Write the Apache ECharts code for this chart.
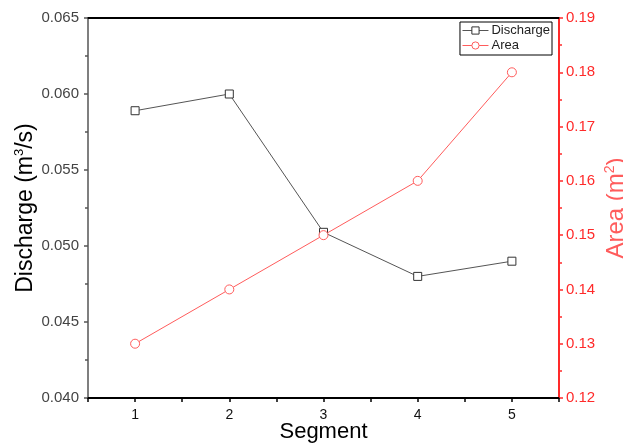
<!DOCTYPE html>
<html>
<head>
<meta charset="utf-8">
<script src="https://cdn.jsdelivr.net/npm/echarts@6/dist/echarts.min.js"></script>
<style>
  html, body { margin: 0; padding: 0; background: #fff; }
  #chart { width: 623px; height: 445px; }
</style>
</head>
<body>
<div id="chart"></div>
<script>
// data
const segments = [1, 2, 3, 4, 5];
const discharge = [0.0589, 0.0600, 0.0509, 0.0480, 0.0490];
const area = [0.130, 0.140, 0.150, 0.160, 0.180];

const font = 'Liberation Sans, Arial, sans-serif';
const red = '#ff2a2a';
const areaColor = '#ff5c5c';
const dischargeColor = '#555';

const chart = echarts.init(document.getElementById('chart'));

const option = {
  animation: false,
  backgroundColor: '#fff',
  textStyle: { fontFamily: font },
  grid: { left: 88, right: 64, top: 18, bottom: 47, outerBoundsMode: 'none' },
  legend: {
    right: 71, top: 22,
    orient: 'vertical',
    backgroundColor: '#fff',
    borderColor: '#000',
    borderWidth: 1,
    borderRadius: 0,
    padding: [2, 2, 3, 2],
    itemGap: 2,
    itemWidth: 26,
    itemHeight: 9,
    textStyle: { fontSize: 13, color: '#222', fontFamily: font, padding: [0, 0, 0, -2] },
    lineStyle: { width: 1 },
    data: [
      { name: 'Discharge', itemStyle: { color: '#fff', borderColor: '#333', borderWidth: 1 } },
      { name: 'Area', itemStyle: { color: '#fff', borderColor: areaColor, borderWidth: 1 } }
    ]
  },
  xAxis: [
    {
      type: 'value',
      min: 0.5, max: 5.5, interval: 0.5,
      name: 'Segment',
      nameLocation: 'middle',
      nameGap: 23,
      nameMoveOverlap: false,
      nameTextStyle: { fontSize: 22, color: '#000', fontFamily: font, verticalAlign: 'top' },
      axisLine: { show: true, lineStyle: { color: '#000', width: 2 } },
      axisTick: { show: true, length: 4, lineStyle: { color: '#000', width: 1.5 } },
      axisLabel: {
        fontSize: 14, color: '#111', margin: 10,
        formatter: v => (Number.isInteger(v) && v >= 1 && v <= 5) ? String(v) : ''
      },
      splitLine: { show: false }
    },
    {
      type: 'value',
      position: 'top',
      min: 0.5, max: 5.5,
      axisLine: { show: true, lineStyle: { color: '#000', width: 2 } },
      axisTick: { show: false },
      axisLabel: { show: false },
      splitLine: { show: false }
    }
  ],
  yAxis: [
    {
      type: 'value',
      position: 'left',
      min: 0.040, max: 0.065, interval: 0.005,
      name: 'Discharge (m{sup|3}/s)',
      nameLocation: 'middle',
      nameGap: 50,
      nameMoveOverlap: false,
      nameRotate: 90,
      nameTextStyle: {
        fontSize: 23, color: '#000', fontFamily: font,
        rich: { sup: { fontSize: 13, color: '#000', fontFamily: font, verticalAlign: 'top', padding: [0, 0, 12, 0] } }
      },
      axisLine: { show: true, lineStyle: { color: '#555', width: 1.5 } },
      axisTick: { show: true, length: 4, lineStyle: { color: '#555', width: 1.5 } },
      minorTick: { show: true, splitNumber: 2, length: 3, lineStyle: { color: '#555', width: 1.5 } },
      axisLabel: { fontSize: 15, color: '#444', margin: 9, formatter: v => v.toFixed(3) },
      splitLine: { show: false }
    },
    {
      type: 'value',
      position: 'right',
      min: 0.12, max: 0.19, interval: 0.01,
      name: 'Area (m{sup|2})',
      nameLocation: 'middle',
      nameGap: 44,
      nameMoveOverlap: false,
      nameRotate: 90,
      nameTextStyle: {
        fontSize: 24, color: areaColor, fontFamily: font,
        rich: { sup: { fontSize: 14, color: areaColor, fontFamily: font, verticalAlign: 'top', padding: [0, 0, 12, 0] } }
      },
      axisLine: { show: true, lineStyle: { color: red, width: 2 } },
      axisTick: { show: true, length: 4, lineStyle: { color: red, width: 1.5 } },
      minorTick: { show: true, splitNumber: 2, length: 3, lineStyle: { color: red, width: 1.5 } },
      axisLabel: { fontSize: 15, color: red, margin: 7, formatter: v => v.toFixed(2) },
      splitLine: { show: false }
    }
  ],
  series: [
    {
      name: 'Discharge',
      type: 'line',
      xAxisIndex: 0,
      yAxisIndex: 0,
      data: segments.map((s, i) => [s, discharge[i]]),
      symbol: 'rect',
      symbolSize: 8,
      itemStyle: { color: '#fff', borderColor: '#333', borderWidth: 1 },
      lineStyle: { color: dischargeColor, width: 1 }
    },
    {
      name: 'Area',
      type: 'line',
      xAxisIndex: 0,
      yAxisIndex: 1,
      data: segments.map((s, i) => [s, area[i]]),
      symbol: 'circle',
      symbolSize: 9,
      itemStyle: { color: '#fff', borderColor: areaColor, borderWidth: 1 },
      lineStyle: { color: areaColor, width: 1 }
    }
  ]
};

chart.setOption(option);
</script>
</body>
</html>
